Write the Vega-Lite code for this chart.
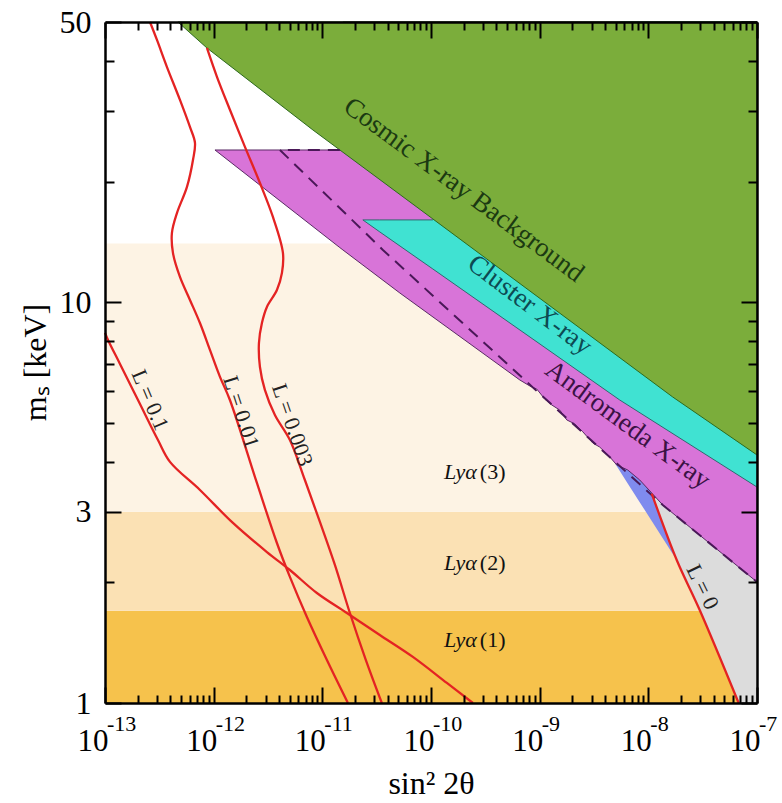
{
"$schema": "https://vega.github.io/schema/vega-lite/v6.json",
"width": 652, "height": 681,
"autosize": "none",
"padding": {"left": 105, "top": 22, "right": 25, "bottom": 100},
"background": "white",
"config": {"view": {"stroke": null}, "font": "Liberation Serif"},
"resolve": {"axis": {"x": "independent", "y": "independent"}},
"datasets": {
"lya": [
{"k": "1", "x1": 1e-13, "x2": 1e-7, "y1": 1, "y2": 1.7},
{"k": "2", "x1": 1e-13, "x2": 1e-7, "y1": 1.7, "y2": 3},
{"k": "3", "x1": 1e-13, "x2": 1e-7, "y1": 3, "y2": 14}
],
"gray": [
{"x": 1.075e-8, "lo": 3.342, "hi": 3.342},
{"x": 1.357e-8, "lo": 2.813, "hi": 4.5},
{"x": 1.825e-8, "lo": 2.274, "hi": 4.5},
{"x": 2.97e-8, "lo": 1.706, "hi": 4.5},
{"x": 6.78e-8, "lo": 1, "hi": 4.5},
{"x": 1e-7, "lo": 1, "hi": 4.5}
],
"blue": [
{"x": 4.91e-9, "lo": 3.97, "hi": 3.97},
{"x": 6.46e-9, "lo": 3.53, "hi": 3.85},
{"x": 8.33e-9, "lo": 3.17, "hi": 3.65},
{"x": 1.075e-8, "lo": 2.846, "hi": 3.342},
{"x": 1.749e-8, "lo": 2.314, "hi": 2.314}
],
"magenta": [
{"x": 1.028e-12, "lo": 23.97, "hi": 23.97},
{"x": 1.45e-11, "lo": 13.68, "hi": 23.97},
{"x": 1.546e-11, "lo": 13.5, "hi": 50},
{"x": 5.17e-11, "lo": 10.54, "hi": 50},
{"x": 6.57e-10, "lo": 6.395, "hi": 50},
{"x": 8.11e-10, "lo": 6.18, "hi": 50},
{"x": 9.41e-10, "lo": 6.07, "hi": 50},
{"x": 1.115e-9, "lo": 5.73, "hi": 50},
{"x": 1.293e-9, "lo": 5.54, "hi": 50},
{"x": 1.531e-9, "lo": 5.38, "hi": 50},
{"x": 1.777e-9, "lo": 5.084, "hi": 50},
{"x": 2.104e-9, "lo": 4.97, "hi": 50},
{"x": 2.492e-9, "lo": 4.75, "hi": 50},
{"x": 3.08e-9, "lo": 4.454, "hi": 50},
{"x": 3.57e-9, "lo": 4.35, "hi": 50},
{"x": 4.42e-9, "lo": 4.11, "hi": 50},
{"x": 5.12e-9, "lo": 3.925, "hi": 50},
{"x": 6.46e-9, "lo": 3.814, "hi": 50},
{"x": 8.33e-9, "lo": 3.601, "hi": 50},
{"x": 1.075e-8, "lo": 3.342, "hi": 50},
{"x": 1.357e-8, "lo": 3.119, "hi": 50},
{"x": 1e-7, "lo": 2.004, "hi": 50}
],
"cyan": [
{"x": 2.36e-11, "lo": 16.04, "hi": 16.04},
{"x": 3.38e-11, "lo": 14.97, "hi": 16.04},
{"x": 1.04e-10, "lo": 12.1, "hi": 16.04},
{"x": 5.46e-9, "lo": 5.7, "hi": 50},
{"x": 1e-7, "lo": 3.458, "hi": 50}
],
"green": [
{"x": 4.69e-13, "lo": 50, "hi": 50},
{"x": 8.67e-13, "lo": 43.07, "hi": 50},
{"x": 8.19e-12, "lo": 26.89, "hi": 50},
{"x": 1.04e-10, "lo": 16.13, "hi": 50},
{"x": 1.676e-8, "lo": 5.8, "hi": 50},
{"x": 1e-7, "lo": 4.157, "hi": 50}
],
"dashed": [
{"i": 0, "x": 1.45e-11, "y": 23.97},
{"i": 1, "x": 4.07e-12, "y": 23.97},
{"i": 2, "x": 3.61e-11, "y": 13.5},
{"i": 3, "x": 9.61e-10, "y": 5.97},
{"i": 4, "x": 1.357e-8, "y": 3.119},
{"i": 5, "x": 1e-7, "y": 2.004}
],
"red": [
{"L": "0.1", "i": 0, "x": 1e-13, "y": 8.38},
{"L": "0.1", "i": 1, "x": 1.066e-13, "y": 8.05},
{"L": "0.1", "i": 2, "x": 1.374e-13, "y": 7.01},
{"L": "0.1", "i": 3, "x": 2.012e-13, "y": 5.7},
{"L": "0.1", "i": 4, "x": 3.072e-13, "y": 4.53},
{"L": "0.1", "i": 5, "x": 3.962e-13, "y": 3.995},
{"L": "0.1", "i": 6, "x": 7.48e-13, "y": 3.4},
{"L": "0.1", "i": 7, "x": 1.504e-12, "y": 2.813},
{"L": "0.1", "i": 8, "x": 3.09e-12, "y": 2.38},
{"L": "0.1", "i": 9, "x": 5.03e-12, "y": 2.147},
{"L": "0.1", "i": 10, "x": 8.91e-12, "y": 1.881},
{"L": "0.1", "i": 11, "x": 1.682e-11, "y": 1.677},
{"L": "0.1", "i": 12, "x": 3.38e-11, "y": 1.478},
{"L": "0.1", "i": 13, "x": 6.81e-11, "y": 1.303},
{"L": "0.1", "i": 14, "x": 1.399e-10, "y": 1.122},
{"L": "0.1", "i": 15, "x": 2.43e-10, "y": 1},
{"L": "0.01", "i": 0, "x": 2.594e-13, "y": 50},
{"L": "0.01", "i": 1, "x": 3.008e-13, "y": 45.1},
{"L": "0.01", "i": 2, "x": 3.718e-13, "y": 38.6},
{"L": "0.01", "i": 3, "x": 4.896e-13, "y": 31.96},
{"L": "0.01", "i": 4, "x": 6.05e-13, "y": 27.36},
{"L": "0.01", "i": 5, "x": 6.73e-13, "y": 24.96},
{"L": "0.01", "i": 6, "x": 6.45e-13, "y": 22.63},
{"L": "0.01", "i": 7, "x": 5.68e-13, "y": 19.39},
{"L": "0.01", "i": 8, "x": 4.6e-13, "y": 16.7},
{"L": "0.01", "i": 9, "x": 4.13e-13, "y": 14.89},
{"L": "0.01", "i": 10, "x": 4.22e-13, "y": 13.27},
{"L": "0.01", "i": 11, "x": 4.896e-13, "y": 11.56},
{"L": "0.01", "i": 12, "x": 6.05e-13, "y": 10.13},
{"L": "0.01", "i": 13, "x": 7.48e-13, "y": 8.87},
{"L": "0.01", "i": 14, "x": 9.24e-13, "y": 7.6},
{"L": "0.01", "i": 15, "x": 1.143e-12, "y": 6.51},
{"L": "0.01", "i": 16, "x": 1.411e-12, "y": 5.7},
{"L": "0.01", "i": 17, "x": 2.5e-12, "y": 3.54},
{"L": "0.01", "i": 18, "x": 3.82e-12, "y": 2.507},
{"L": "0.01", "i": 19, "x": 5.03e-12, "y": 2.063},
{"L": "0.01", "i": 20, "x": 7.21e-12, "y": 1.639},
{"L": "0.01", "i": 21, "x": 1.102e-11, "y": 1.28},
{"L": "0.01", "i": 22, "x": 1.719e-11, "y": 1},
{"L": "0.003", "i": 0, "x": 8.67e-13, "y": 43.07},
{"L": "0.003", "i": 1, "x": 1.072e-12, "y": 36.5},
{"L": "0.003", "i": 2, "x": 1.411e-12, "y": 30.2},
{"L": "0.003", "i": 3, "x": 1.94e-12, "y": 24.4},
{"L": "0.003", "i": 4, "x": 2.666e-12, "y": 19.83},
{"L": "0.003", "i": 5, "x": 3.51e-12, "y": 16.32},
{"L": "0.003", "i": 6, "x": 4.34e-12, "y": 13.27},
{"L": "0.003", "i": 7, "x": 4.25e-12, "y": 11.83},
{"L": "0.003", "i": 8, "x": 3.82e-12, "y": 10.72},
{"L": "0.003", "i": 9, "x": 3.09e-12, "y": 9.73},
{"L": "0.003", "i": 10, "x": 2.78e-12, "y": 8.87},
{"L": "0.003", "i": 11, "x": 2.61e-12, "y": 7.91},
{"L": "0.003", "i": 12, "x": 2.666e-12, "y": 6.89},
{"L": "0.003", "i": 13, "x": 2.96e-12, "y": 6.04},
{"L": "0.003", "i": 14, "x": 3.66e-12, "y": 5.23},
{"L": "0.003", "i": 15, "x": 5.03e-12, "y": 4.53},
{"L": "0.003", "i": 16, "x": 6.91e-12, "y": 3.6},
{"L": "0.003", "i": 17, "x": 9.5e-12, "y": 2.83},
{"L": "0.003", "i": 18, "x": 1.305e-11, "y": 2.21},
{"L": "0.003", "i": 19, "x": 1.793e-11, "y": 1.677},
{"L": "0.003", "i": 20, "x": 2.516e-11, "y": 1.28},
{"L": "0.003", "i": 21, "x": 3.53e-11, "y": 1},
{"L": "0", "i": 0, "x": 1.075e-8, "y": 3.33},
{"L": "0", "i": 1, "x": 1.825e-8, "y": 2.274},
{"L": "0", "i": 2, "x": 2.97e-8, "y": 1.706},
{"L": "0", "i": 3, "x": 6.78e-8, "y": 1}
],
"lyalab": [
{"a": "Lyα", "b": "(3)", "x": 2.64e-10, "y": 3.77},
{"a": "Lyα", "b": "(2)", "x": 2.64e-10, "y": 2.236},
{"a": "Lyα", "b": "(1)", "x": 2.64e-10, "y": 1.436}
],
"exps": [
{"x": 1e-13, "e": "-13"}, {"x": 1e-12, "e": "-12"}, {"x": 1e-11, "e": "-11"},
{"x": 1e-10, "e": "-10"}, {"x": 1e-9, "e": "-9"}, {"x": 1e-8, "e": "-8"}, {"x": 1e-7, "e": "-7"}
]
},
"layer": [
{"data": {"name": "lya"}, "mark": {"type": "rect"},
 "encoding": {
  "x": {"field": "x1", "type": "quantitative", "scale": {"type": "log", "domain": [1e-13, 1e-7], "nice": false},
   "axis": {"orient": "bottom", "values": [1e-13, 1e-12, 1e-11, 1e-10, 1e-9, 1e-8, 1e-7], "tickSize": -16, "tickWidth": 2, "tickColor": "black", "domain": true, "domainColor": "black", "domainWidth": 2.5, "grid": false,
    "labelExpr": "'10'", "labelAlign": "right", "labelOffset": 3, "labelBaseline": "alphabetic", "labelPadding": 63, "labelFont": "Liberation Serif", "labelFontSize": 31, "labelColor": "black", "labelFlush": false, "labelOverlap": false,
    "title": "sin² 2θ", "titleFont": "Liberation Serif", "titleFontSize": 32, "titleFontWeight": "normal", "titleColor": "black", "titleX": 326, "titleY": 90, "titleAlign": "center", "titleBaseline": "alphabetic", "zindex": 1}},
  "x2": {"field": "x2"},
  "y": {"field": "y1", "type": "quantitative", "scale": {"type": "log", "domain": [1, 50], "nice": false},
   "axis": {"orient": "left", "values": [1, 3, 10, 50], "tickSize": -16, "tickWidth": 2, "tickColor": "black", "domain": true, "domainColor": "black", "domainWidth": 2.5, "grid": false,
    "labelExpr": "'' + datum.value", "labelAlign": "right", "labelBaseline": "middle", "labelPadding": 30, "labelFont": "Liberation Serif", "labelFontSize": 32, "labelColor": "black", "labelFlush": false, "labelOverlap": false,
    "title": "mₛ  [keV]", "titleFont": "Liberation Serif", "titleFontSize": 32, "titleFontWeight": "normal", "titleColor": "black", "titleX": -70, "titleY": 340, "titleAngle": -90, "titleAlign": "center", "titleBaseline": "middle", "zindex": 1}},
  "y2": {"field": "y2"},
  "color": {"field": "k", "type": "nominal", "scale": {"domain": ["1", "2", "3"], "range": ["#f6c24c", "#fbe1b4", "#fdf3e4"]}, "legend": null}
 }},
{"data": {"name": "gray"}, "mark": {"type": "area", "color": "#dcdcdc", "opacity": 1},
 "encoding": {
  "x": {"field": "x", "type": "quantitative", "scale": {"type": "log", "domain": [1e-13, 1e-7], "nice": false},
   "axis": {"orient": "bottom", "values": [2e-13, 3e-13, 4e-13, 5e-13, 6e-13, 7e-13, 8e-13, 9e-13, 2e-12, 3e-12, 4e-12, 5e-12, 6e-12, 7e-12, 8e-12, 9e-12, 2e-11, 3e-11, 4e-11, 5e-11, 6e-11, 7e-11, 8e-11, 9e-11, 2e-10, 3e-10, 4e-10, 5e-10, 6e-10, 7e-10, 8e-10, 9e-10, 2e-9, 3e-9, 4e-9, 5e-9, 6e-9, 7e-9, 8e-9, 9e-9, 2e-8, 3e-8, 4e-8, 5e-8, 6e-8, 7e-8, 8e-8, 9e-8], "tickSize": -8, "tickWidth": 2, "tickColor": "black", "domain": false, "labels": false, "grid": false, "title": null, "zindex": 1}},
  "y": {"field": "lo", "type": "quantitative", "scale": {"type": "log", "domain": [1, 50], "nice": false},
   "axis": {"orient": "left", "values": [2, 4, 5, 6, 7, 8, 9, 20, 30, 40], "tickSize": -9, "tickWidth": 2, "tickColor": "black", "domain": false, "labels": false, "grid": false, "title": null, "zindex": 1}},
  "y2": {"field": "hi"}
 }},
{"data": {"name": "blue"}, "mark": {"type": "area", "color": "#7f8bee", "opacity": 1},
 "encoding": {
  "x": {"field": "x", "type": "quantitative", "scale": {"type": "log", "domain": [1e-13, 1e-7], "nice": false},
   "axis": {"orient": "top", "values": [1e-13, 1e-12, 1e-11, 1e-10, 1e-9, 1e-8, 1e-7], "tickSize": -16, "tickWidth": 2, "tickColor": "black", "domain": true, "domainColor": "black", "domainWidth": 2.5, "labels": false, "grid": false, "title": null, "zindex": 1}},
  "y": {"field": "lo", "type": "quantitative", "scale": {"type": "log", "domain": [1, 50], "nice": false},
   "axis": {"orient": "right", "values": [1, 3, 10, 50], "tickSize": -16, "tickWidth": 2, "tickColor": "black", "domain": true, "domainColor": "black", "domainWidth": 2.5, "labels": false, "grid": false, "title": null, "zindex": 1}},
  "y2": {"field": "hi"}
 }},
{"data": {"name": "magenta"}, "mark": {"type": "area", "color": "#d874d8", "opacity": 1, "stroke": "#5a2a66", "strokeWidth": 1},
 "encoding": {
  "x": {"field": "x", "type": "quantitative", "scale": {"type": "log", "domain": [1e-13, 1e-7], "nice": false},
   "axis": {"orient": "top", "values": [2e-13, 3e-13, 4e-13, 5e-13, 6e-13, 7e-13, 8e-13, 9e-13, 2e-12, 3e-12, 4e-12, 5e-12, 6e-12, 7e-12, 8e-12, 9e-12, 2e-11, 3e-11, 4e-11, 5e-11, 6e-11, 7e-11, 8e-11, 9e-11, 2e-10, 3e-10, 4e-10, 5e-10, 6e-10, 7e-10, 8e-10, 9e-10, 2e-9, 3e-9, 4e-9, 5e-9, 6e-9, 7e-9, 8e-9, 9e-9, 2e-8, 3e-8, 4e-8, 5e-8, 6e-8, 7e-8, 8e-8, 9e-8], "tickSize": -8, "tickWidth": 2, "tickColor": "black", "domain": false, "labels": false, "grid": false, "title": null, "zindex": 1}},
  "y": {"field": "lo", "type": "quantitative", "scale": {"type": "log", "domain": [1, 50], "nice": false},
   "axis": {"orient": "right", "values": [2, 4, 5, 6, 7, 8, 9, 20, 30, 40], "tickSize": -9, "tickWidth": 2, "tickColor": "black", "domain": false, "labels": false, "grid": false, "title": null, "zindex": 1}},
  "y2": {"field": "hi"}
 }},
{"data": {"name": "cyan"}, "mark": {"type": "area", "color": "#40e2d2", "opacity": 1, "stroke": "#2f6a70", "strokeWidth": 1},
 "encoding": {
  "x": {"field": "x", "type": "quantitative", "scale": {"type": "log", "domain": [1e-13, 1e-7], "nice": false}, "axis": null},
  "y": {"field": "lo", "type": "quantitative", "scale": {"type": "log", "domain": [1, 50], "nice": false}, "axis": null},
  "y2": {"field": "hi"}
 }},
{"data": {"name": "green"}, "mark": {"type": "area", "color": "#7bad3b", "opacity": 1, "stroke": "#2d6a1e", "strokeWidth": 1},
 "encoding": {
  "x": {"field": "x", "type": "quantitative", "scale": {"type": "log", "domain": [1e-13, 1e-7], "nice": false}, "axis": null},
  "y": {"field": "lo", "type": "quantitative", "scale": {"type": "log", "domain": [1, 50], "nice": false}, "axis": null},
  "y2": {"field": "hi"}
 }},
{"data": {"name": "dashed"}, "mark": {"type": "line", "color": "#4a1858", "strokeWidth": 2, "strokeDash": [12, 8]},
 "encoding": {
  "x": {"field": "x", "type": "quantitative", "scale": {"type": "log", "domain": [1e-13, 1e-7], "nice": false}, "axis": null},
  "y": {"field": "y", "type": "quantitative", "scale": {"type": "log", "domain": [1, 50], "nice": false}, "axis": null},
  "order": {"field": "i", "type": "quantitative"}
 }},
{"data": {"name": "red"}, "mark": {"type": "line", "color": "#e42323", "strokeWidth": 2.3, "interpolate": "catmull-rom"},
 "encoding": {
  "x": {"field": "x", "type": "quantitative", "scale": {"type": "log", "domain": [1e-13, 1e-7], "nice": false}, "axis": null},
  "y": {"field": "y", "type": "quantitative", "scale": {"type": "log", "domain": [1, 50], "nice": false}, "axis": null},
  "detail": {"field": "L", "type": "nominal"},
  "order": {"field": "i", "type": "quantitative"}
 }},
{"data": {"values": [{"t": "Cosmic X-ray Background", "x": 2.0e-10, "y": 19.05}]}, "mark": {"type": "text", "angle": 36.5, "fontSize": 27, "font": "Liberation Serif", "align": "center", "baseline": "middle", "color": "#1b3a12"},
 "encoding": {
  "x": {"field": "x", "type": "quantitative", "scale": {"type": "log", "domain": [1e-13, 1e-7], "nice": false}, "axis": null},
  "y": {"field": "y", "type": "quantitative", "scale": {"type": "log", "domain": [1, 50], "nice": false}, "axis": null},
  "text": {"field": "t"}
 }},
{"data": {"values": [{"t": "Cluster X-ray", "x": 8.11e-10, "y": 9.84}]}, "mark": {"type": "text", "angle": 37, "fontSize": 27, "font": "Liberation Serif", "align": "center", "baseline": "middle", "color": "#0d4a52"},
 "encoding": {
  "x": {"field": "x", "type": "quantitative", "scale": {"type": "log", "domain": [1e-13, 1e-7], "nice": false}, "axis": null},
  "y": {"field": "y", "type": "quantitative", "scale": {"type": "log", "domain": [1, 50], "nice": false}, "axis": null},
  "text": {"field": "t"}
 }},
{"data": {"values": [{"t": "Andromeda X-ray", "x": 6.46e-9, "y": 4.94}]}, "mark": {"type": "text", "angle": 36.3, "fontSize": 27, "font": "Liberation Serif", "align": "center", "baseline": "middle", "color": "#3b1244"},
 "encoding": {
  "x": {"field": "x", "type": "quantitative", "scale": {"type": "log", "domain": [1e-13, 1e-7], "nice": false}, "axis": null},
  "y": {"field": "y", "type": "quantitative", "scale": {"type": "log", "domain": [1, 50], "nice": false}, "axis": null},
  "text": {"field": "t"}
 }},
{"data": {"values": [{"t": "L = 0.1", "x": 2.6e-13, "y": 5.7}]}, "mark": {"type": "text", "angle": 67, "fontSize": 22, "font": "Liberation Serif", "align": "center", "baseline": "middle", "color": "#222"},
 "encoding": {
  "x": {"field": "x", "type": "quantitative", "scale": {"type": "log", "domain": [1e-13, 1e-7], "nice": false}, "axis": null},
  "y": {"field": "y", "type": "quantitative", "scale": {"type": "log", "domain": [1, 50], "nice": false}, "axis": null},
  "text": {"field": "t"}
 }},
{"data": {"values": [{"t": "L = 0.01", "x": 1.79e-12, "y": 5.32}]}, "mark": {"type": "text", "angle": 72, "fontSize": 22, "font": "Liberation Serif", "align": "center", "baseline": "middle", "color": "#222"},
 "encoding": {
  "x": {"field": "x", "type": "quantitative", "scale": {"type": "log", "domain": [1e-13, 1e-7], "nice": false}, "axis": null},
  "y": {"field": "y", "type": "quantitative", "scale": {"type": "log", "domain": [1, 50], "nice": false}, "axis": null},
  "text": {"field": "t"}
 }},
{"data": {"values": [{"t": "L = 0.003", "x": 5.3e-12, "y": 4.94}]}, "mark": {"type": "text", "angle": 71, "fontSize": 22, "font": "Liberation Serif", "align": "center", "baseline": "middle", "color": "#222"},
 "encoding": {
  "x": {"field": "x", "type": "quantitative", "scale": {"type": "log", "domain": [1e-13, 1e-7], "nice": false}, "axis": null},
  "y": {"field": "y", "type": "quantitative", "scale": {"type": "log", "domain": [1, 50], "nice": false}, "axis": null},
  "text": {"field": "t"}
 }},
{"data": {"values": [{"t": "L = 0", "x": 3.15e-8, "y": 1.947}]}, "mark": {"type": "text", "angle": 64, "fontSize": 22, "font": "Liberation Serif", "align": "center", "baseline": "middle", "color": "#222"},
 "encoding": {
  "x": {"field": "x", "type": "quantitative", "scale": {"type": "log", "domain": [1e-13, 1e-7], "nice": false}, "axis": null},
  "y": {"field": "y", "type": "quantitative", "scale": {"type": "log", "domain": [1, 50], "nice": false}, "axis": null},
  "text": {"field": "t"}
 }},
{"data": {"name": "lyalab"}, "mark": {"type": "text", "fontSize": 22, "font": "Liberation Serif", "fontStyle": "italic", "align": "right", "baseline": "middle", "color": "#111"},
 "encoding": {
  "x": {"field": "x", "type": "quantitative", "scale": {"type": "log", "domain": [1e-13, 1e-7], "nice": false}, "axis": null},
  "y": {"field": "y", "type": "quantitative", "scale": {"type": "log", "domain": [1, 50], "nice": false}, "axis": null},
  "text": {"field": "a"}
 }},
{"data": {"name": "lyalab"}, "mark": {"type": "text", "fontSize": 22, "font": "Liberation Serif", "align": "left", "baseline": "middle", "dx": 3, "color": "#111"},
 "encoding": {
  "x": {"field": "x", "type": "quantitative", "scale": {"type": "log", "domain": [1e-13, 1e-7], "nice": false}, "axis": null},
  "y": {"field": "y", "type": "quantitative", "scale": {"type": "log", "domain": [1, 50], "nice": false}, "axis": null},
  "text": {"field": "b"}
 }},
{"data": {"name": "exps"}, "mark": {"type": "text", "fontSize": 22, "font": "Liberation Serif", "align": "left", "baseline": "alphabetic", "dx": 2, "dy": 28, "color": "black"},
 "encoding": {
  "x": {"field": "x", "type": "quantitative", "scale": {"type": "log", "domain": [1e-13, 1e-7], "nice": false}, "axis": null},
  "y": {"datum": 1, "type": "quantitative", "scale": {"type": "log", "domain": [1, 50], "nice": false}, "axis": null},
  "text": {"field": "e"}
 }}
]
}
